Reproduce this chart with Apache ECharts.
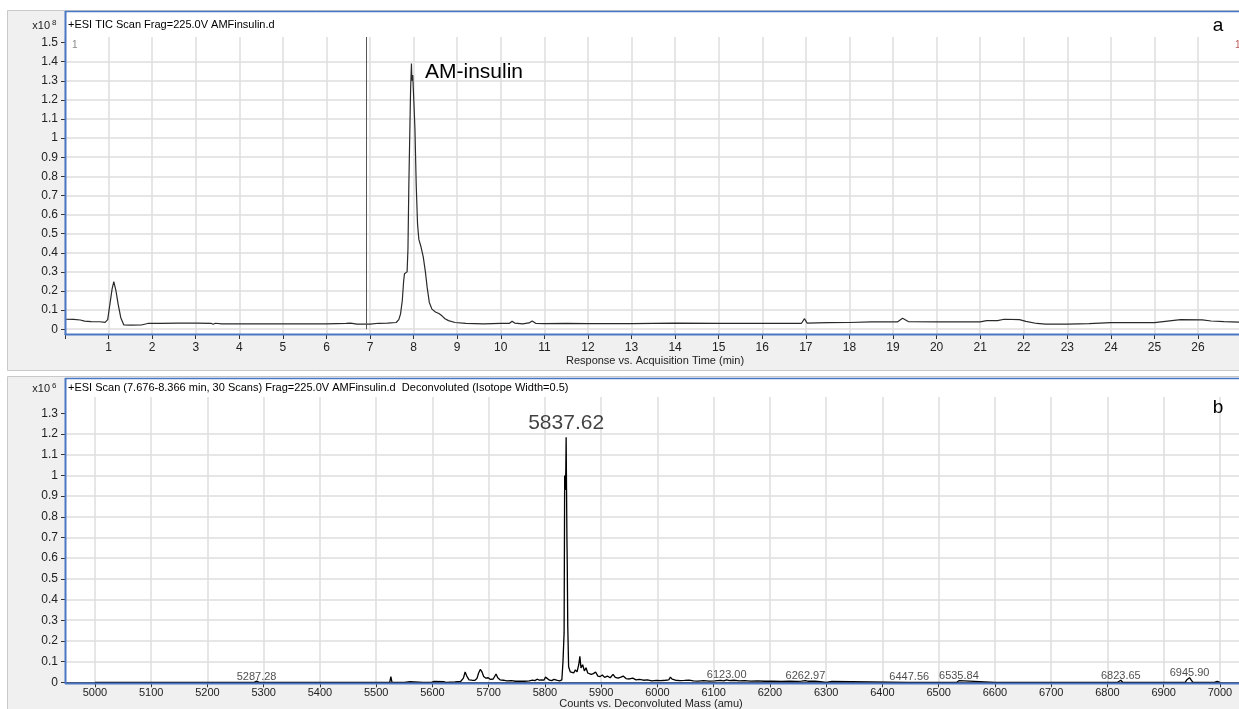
<!DOCTYPE html>
<html>
<head>
<meta charset="utf-8">
<title>AM-insulin LC-MS</title>
<script src="https://cdn.jsdelivr.net/npm/echarts@6/dist/echarts.min.js"></script>
<style>
  html, body { margin: 0; padding: 0; background: #ffffff; }
  #chart { width: 1239px; height: 709px; }
</style>
</head>
<body>
<div id="chart"></div>
<script>
// ---- (a) total ion chromatogram: counts (x10^8) vs. acquisition time (min)
const ticTime = [0, 0.2, 0.35, 0.45, 0.6, 0.8, 0.92, 0.98, 1.03, 1.08, 1.12, 1.17, 1.22, 1.28, 1.35, 1.5, 1.75, 1.9,
  2.2, 2.6, 3.0, 3.35, 3.4, 3.45, 3.6, 4.0, 4.5, 5.0, 5.5, 6.0, 6.45, 6.55, 6.7, 7.0, 7.2, 7.4, 7.6, 7.66, 7.7,
  7.74, 7.77, 7.79, 7.82, 7.85, 7.87, 7.89, 7.91, 7.93, 7.95, 7.96, 7.98, 8.0, 8.03, 8.06, 8.09, 8.12, 8.17, 8.22,
  8.27, 8.31, 8.36, 8.42, 8.5, 8.58, 8.65, 8.72, 8.8, 8.95, 9.2, 9.6, 10.0, 10.2, 10.26, 10.32, 10.5, 10.65, 10.72,
  10.8, 11.0, 11.5, 12.0, 13.0, 14.0, 15.0, 16.0, 16.9, 16.97, 17.03, 17.5, 18.0, 18.5, 19.1, 19.22, 19.35, 20.0,
  21.0, 21.15, 21.4, 21.55, 21.9, 22.05, 22.3, 22.5, 23.0, 23.5, 24.0, 25.0, 25.3, 25.6, 26.1, 26.3, 26.6, 26.94];
const ticCounts = [0.052, 0.051, 0.048, 0.042, 0.04, 0.039, 0.036, 0.05, 0.13, 0.21, 0.249, 0.2, 0.13, 0.06, 0.022,
  0.021, 0.022, 0.03, 0.031, 0.032, 0.032, 0.031, 0.026, 0.031, 0.028, 0.028, 0.028, 0.028, 0.028, 0.028, 0.03,
  0.032, 0.027, 0.027, 0.031, 0.032, 0.035, 0.05, 0.08, 0.15, 0.25, 0.29, 0.28, 0.3, 0.42, 0.75, 1.0, 1.25, 1.39,
  1.3, 1.33, 1.22, 1.05, 0.75, 0.55, 0.47, 0.43, 0.38, 0.3, 0.22, 0.14, 0.105, 0.09, 0.082, 0.07, 0.055, 0.045,
  0.035, 0.03, 0.028, 0.03, 0.031, 0.042, 0.032, 0.028, 0.033, 0.043, 0.031, 0.029, 0.03, 0.029, 0.029, 0.032,
  0.03, 0.03, 0.031, 0.055, 0.032, 0.034, 0.035, 0.038, 0.038, 0.057, 0.04, 0.038, 0.038, 0.045, 0.045, 0.052,
  0.05, 0.041, 0.03, 0.027, 0.027, 0.029, 0.034, 0.034, 0.042, 0.05, 0.049, 0.043, 0.04, 0.037];
const cursorTime = 6.91;
const timeTicks = [1, 2, 3, 4, 5, 6, 7, 8, 9, 10, 11, 12, 13, 14, 15, 16, 17, 18, 19, 20, 21, 22, 23, 24, 25, 26];
const ticYTicks = [0, 0.1, 0.2, 0.3, 0.4, 0.5, 0.6, 0.7, 0.8, 0.9, 1, 1.1, 1.2, 1.3, 1.4, 1.5];

// ---- (b) deconvoluted spectrum: counts (x10^6) vs. mass (amu)
const specMass = [5000, 5250, 5252, 5254, 5283, 5285, 5287.28, 5290, 5292, 5322, 5324, 5326, 5488, 5490, 5492,
  5500, 5502, 5504, 5524, 5526, 5528, 5545, 5547, 5550, 5560, 5563, 5583, 5585, 5588, 5598, 5600, 5603, 5606,
  5620, 5624, 5640, 5650, 5655, 5658, 5661, 5665, 5670, 5675, 5679, 5682, 5685, 5688, 5691, 5695, 5699, 5703,
  5708, 5713, 5716, 5720, 5726, 5732, 5740, 5748, 5756, 5764, 5772, 5778, 5782, 5786, 5790, 5794, 5798, 5801,
  5804, 5808, 5812, 5816, 5819, 5822, 5826, 5830, 5832, 5834, 5835, 5836, 5837, 5837.62, 5838.3, 5839, 5839.6,
  5840.5, 5842, 5845, 5848, 5851, 5854, 5857, 5860, 5862, 5864, 5867, 5870, 5873, 5876, 5879, 5882, 5886, 5890,
  5894, 5898, 5902, 5906, 5911, 5916, 5921, 5925, 5930, 5935, 5939, 5944, 5950, 5956, 5962, 5968, 5975, 5982,
  5990, 5998, 6006, 6014, 6020, 6023, 6026, 6032, 6040, 6048, 6056, 6064, 6072, 6082, 6092, 6102, 6112, 6118,
  6123, 6128, 6136, 6145, 6155, 6165, 6178, 6190, 6205, 6220, 6235, 6248, 6256, 6262.97, 6268, 6280, 6290, 6300,
  6310, 6312, 6445, 6447.56, 6450, 6532, 6535.84, 6539, 6600, 6602, 6604, 6778, 6780, 6782, 6795, 6797, 6799,
  6818, 6820, 6823.65, 6827, 6938, 6941, 6945.9, 6949, 6952, 6985, 6988, 6990, 6995, 6997, 7000];
const specCounts = [0, 0, 0.004, 0, 0, 0.005, 0.006, 0.004, 0, 0, 0.005, 0, 0, 0.004, 0,
  0, 0.003, 0, 0, 0.027, 0, 0, 0.004, 0, 0.003, 0, 0, 0.004, 0, 0, 0.006, 0.004, 0,
  0.003, 0, 0.002, 0.004, 0.02, 0.05, 0.03, 0.012, 0.01, 0.009, 0.018, 0.045, 0.062, 0.05, 0.028, 0.02, 0.022, 0.014,
  0.016, 0.04, 0.022, 0.012, 0.01, 0.007, 0.008, 0.005, 0.006, 0.005, 0.007, 0.01, 0.008, 0.015, 0.01, 0.012, 0.01, 0.025,
  0.016, 0.01, 0.008, 0.014, 0.017, 0.009, 0.007, 0.012, 0.1, 0.24, 1.0, 0.93, 1.02, 1.185, 0.94, 0.7, 0.57,
  0.27, 0.075, 0.05, 0.055, 0.045, 0.06, 0.05, 0.085, 0.125, 0.07, 0.085, 0.055, 0.07, 0.045, 0.05, 0.038, 0.042, 0.05,
  0.03, 0.028, 0.035, 0.024, 0.03, 0.022, 0.038, 0.024, 0.02, 0.025, 0.03, 0.018, 0.016, 0.02, 0.012, 0.014, 0.01, 0.012,
  0.007, 0.009, 0.008, 0.01, 0.012, 0.025, 0.015, 0.01, 0.008, 0.009, 0.011, 0.007, 0.006, 0.008, 0.006, 0.007, 0.009, 0.007,
  0.012, 0.008, 0.01, 0.007, 0.008, 0.006, 0.007, 0.005, 0.006, 0.004, 0.005, 0.004, 0.006, 0.008, 0.005, 0.006, 0.003, 0,
  0.004, 0, 0, 0.006, 0, 0, 0.008, 0, 0, 0.003, 0, 0, 0.004, 0, 0, 0.006, 0,
  0, 0.008, 0.01, 0, 0, 0.012, 0.022, 0.01, 0, 0, 0.005, 0, 0.004, 0, 0];

// labelled peaks (mass, counts x10^6)
const peakMass = [5287.28, 5837.62, 6123.00, 6262.97, 6447.56, 6535.84, 6823.65, 6945.90];
const peakCounts = [0.006, 1.185, 0.012, 0.008, 0.006, 0.008, 0.01, 0.022];
const massTicks = [5000, 5100, 5200, 5300, 5400, 5500, 5600, 5700, 5800, 5900, 6000, 6100, 6200, 6300, 6400,
  6500, 6600, 6700, 6800, 6900, 7000];
const specYTicks = [0, 0.1, 0.2, 0.3, 0.4, 0.5, 0.6, 0.7, 0.8, 0.9, 1, 1.1, 1.2, 1.3];

// ---- styling
const FONT = '"Liberation Sans", Arial, "Helvetica Neue", sans-serif';
const FRAME_BLUE = '#4a77c4';
const GRID_GRAY = '#dedede';
const PANEL_GRAY = '#f0f0f0';

const fmtTenth = v => {
  const r = Math.round(v * 10) / 10;
  return Math.abs(r - v) < 1e-6 ? String(r) : '';
};

function yAxisFor(gridIndex, max, ticks) {
  return {
    type: 'value', gridIndex, min: 0, max, interval: 0.1,
    axisLine: { show: false },
    axisTick: { show: true, length: 4, customValues: ticks, lineStyle: { color: '#333', width: 1 } },
    axisLabel: { customValues: ticks, formatter: fmtTenth, margin: 7, color: '#222', fontSize: 12, fontFamily: FONT },
    splitLine: { show: true, showMaxLine: false, lineStyle: { color: GRID_GRAY, width: 1.5 } }
  };
}

function text(str, x, y, size, opts) {
  const o = opts || {};
  return {
    type: 'text', z: 20,
    style: {
      text: str, x, y,
      font: (o.weight || 'normal') + ' ' + size + 'px ' + FONT,
      fill: o.fill || '#111',
      textAlign: o.align || 'left', align: o.align || 'left',
      textVerticalAlign: 'middle', verticalAlign: 'middle'
    }
  };
}
function rect(x, y, w, h, fill, stroke) {
  return { type: 'rect', z: -20, shape: { x, y, width: w, height: h },
    style: { fill, stroke: stroke || null, lineWidth: 1 } };
}
function line(x1, y1, x2, y2, color, w) {
  return { type: 'line', z: 15, shape: { x1, y1, x2, y2 }, style: { stroke: color, lineWidth: w } };
}

const chart = echarts.init(document.getElementById('chart'), null, { renderer: 'canvas' });

chart.setOption({
  animation: false,
  backgroundColor: '#ffffff',
  grid: [
    { left: 65, top: 37, width: 1174, height: 292.2 },   // (a) data area, y = 0 on its bottom edge
    { left: 65, top: 37, width: 1174, height: 297 },     // (a) full plot box for vertical grid lines and time axis
    { left: 65, top: 397, width: 1174, height: 285.3 }   // (b)
  ],
  xAxis: [
    { type: 'value', gridIndex: 0, min: 0, max: 26.94, show: false },
    {
      type: 'value', gridIndex: 1, min: 0, max: 26.94, interval: 1, offset: 3,
      axisLine: { show: true, lineStyle: { color: '#444', width: 1 } },
      axisTick: { show: true, length: 5, customValues: [0].concat(timeTicks), lineStyle: { color: '#333' } },
      axisLabel: { customValues: timeTicks, margin: 5, color: '#222', fontSize: 12, fontFamily: FONT,
        formatter: v => (Number.isInteger(v) && v > 0 ? String(v) : '') },
      splitLine: { show: true, lineStyle: { color: GRID_GRAY, width: 1.5 } }
    },
    {
      type: 'value', gridIndex: 2, min: 4946.7, max: 7033.8, splitNumber: 20, minInterval: 100, maxInterval: 100,
      offset: 2,
      axisLine: { show: true, lineStyle: { color: '#444', width: 1 } },
      axisTick: { show: true, length: 5, customValues: massTicks, lineStyle: { color: '#333' } },
      axisLabel: { customValues: massTicks, margin: 3, color: '#222', fontSize: 11, fontFamily: FONT,
        formatter: v => (Math.abs(v % 100) < 1e-6 ? String(v) : '') },
      splitLine: { show: true, lineStyle: { color: GRID_GRAY, width: 1.5 } }
    }
  ],
  yAxis: [
    yAxisFor(0, 1.529, ticYTicks),
    { type: 'value', gridIndex: 1, min: 0, max: 1, show: false, splitLine: { show: false } },
    yAxisFor(2, 1.379, specYTicks)
  ],
  series: [
    {
      type: 'line', xAxisIndex: 0, yAxisIndex: 0,
      data: ticTime.map((t, i) => [t, ticCounts[i]]),
      showSymbol: false, symbol: 'none', silent: true,
      lineStyle: { color: '#2a2a2a', width: 1.2 },
      markLine: {
        silent: true, symbol: 'none', label: { show: false },
        lineStyle: { color: '#555', width: 1, type: 'solid' },
        data: [{ xAxis: cursorTime }]
      }
    },
    {
      type: 'line', xAxisIndex: 2, yAxisIndex: 2,
      data: specMass.map((m, i) => [m, specCounts[i]]),
      showSymbol: false, symbol: 'none', silent: true,
      lineStyle: { color: '#000', width: 1.3 }
    },
    {
      type: 'scatter', xAxisIndex: 2, yAxisIndex: 2, symbolSize: 0, silent: true, z: 5,
      data: peakMass.map((m, i) => {
        const major = peakCounts[i] > 0.5;
        return {
          value: [m, peakCounts[i]],
          label: major
            ? { fontSize: 21, distance: 3, color: '#111' }
            : { fontSize: 11, distance: -1, color: '#222' }
        };
      }),
      label: {
        show: true, position: 'top', fontFamily: FONT,
        formatter: p => p.value[0].toFixed(2)
      }
    }
  ],
  graphic: [
    // panel (a) frame
    rect(7.5, 10.5, 1240, 360, PANEL_GRAY, '#c9c9c9'),
    rect(65, 11, 1180, 323, '#ffffff'),
    line(65, 11.5, 1239, 11.5, FRAME_BLUE, 1.5),
    line(65.5, 11, 65.5, 335, FRAME_BLUE, 2),
    line(65, 334.5, 1239, 334.5, FRAME_BLUE, 2),
    // panel (b) frame
    rect(7.5, 376.5, 1240, 340, PANEL_GRAY, '#c9c9c9'),
    rect(65, 378, 1180, 305, '#ffffff'),
    line(65, 378.5, 1239, 378.5, FRAME_BLUE, 1.5),
    line(65.5, 378, 65.5, 684, FRAME_BLUE, 2),
    line(65, 683.5, 1239, 683.5, FRAME_BLUE, 2),

    // panel (a) texts
    text('x10', 50, 26, 11, { align: 'right', fill: '#222' }),
    text('8', 52, 23, 8, { fill: '#222' }),
    text('+ESI TIC Scan Frag=225.0V AMFinsulin.d', 68, 25, 11, { fill: '#000' }),
    text('1', 72, 45, 10, { fill: '#888' }),
    text('1', 1235, 45, 10, { fill: '#b85a5a' }),
    text('AM-insulin', 425, 72, 21, { fill: '#000' }),
    text('a', 1218, 26, 19, { align: 'center', fill: '#000' }),
    text('Response vs. Acquisition Time (min)', 655, 361, 11, { align: 'center', fill: '#222' }),

    // panel (b) texts
    text('x10', 50, 389, 11, { align: 'right', fill: '#222' }),
    text('6', 52, 386, 8, { fill: '#222' }),
    text('+ESI Scan (7.676-8.366 min, 30 Scans) Frag=225.0V AMFinsulin.d  Deconvoluted (Isotope Width=0.5)', 68, 388, 11, { fill: '#000' }),
    text('b', 1218, 408, 19, { align: 'center', fill: '#000' }),
    text('Counts vs. Deconvoluted Mass (amu)', 651, 704, 11, { align: 'center', fill: '#222' })
  ]
});
</script>
</body>
</html>
